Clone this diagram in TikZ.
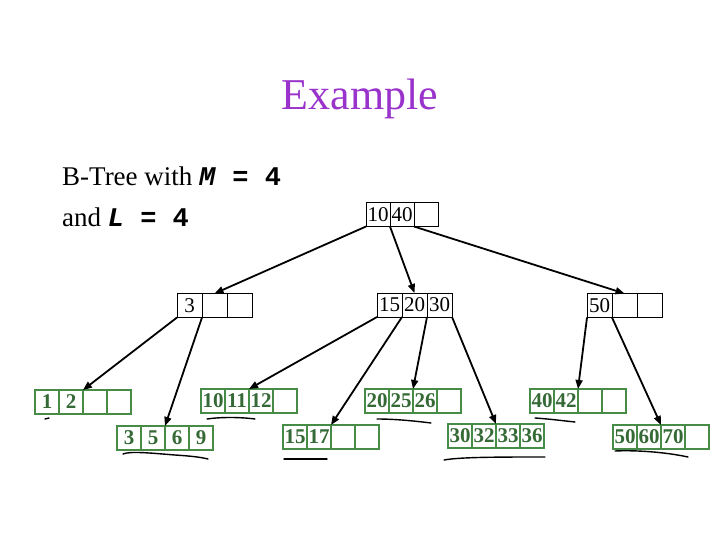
\documentclass[tikz,border=0pt]{standalone}
\usepackage{fontspec}
\setmainfont{Liberation Serif}
\setmonofont{Liberation Mono}
\usetikzlibrary{arrows.meta,positioning,calc}
\definecolor{titlepurple}{RGB}{153,51,204}
\definecolor{leafgreen}{RGB}{70,140,70}

\begin{document}
\begin{tikzpicture}[x=1pt,y=-1pt,
  icell/.style={draw=black,line width=1pt,minimum height=24pt,inner sep=0pt,outer sep=0pt,font=\fontsize{21}{21}\selectfont},
  lcell/.style={draw=leafgreen,line width=1.8pt,minimum width=24pt,minimum height=24pt,inner sep=0pt,outer sep=0pt,text=leafgreen!75!black,font=\fontsize{21}{21}\selectfont\bfseries},
  ptr/.style={-{Triangle[length=9pt,width=7pt]},line width=1.8pt},
  scribble/.style={line width=1.4pt,line cap=round}]
  \useasboundingbox (0,0) rectangle (720,540);

  % heading
  \node[text=titlepurple,font=\fontsize{44}{44}\selectfont,anchor=base,inner sep=0pt] (title) at (360,110) {Example};
  \node[anchor=base west,inner sep=0pt,font=\fontsize{27}{27}\selectfont] (line1) at (62,186) {B-Tree with \texttt{\textbf{\textit{M} = 4}}};
  \node[anchor=base west,inner sep=0pt,font=\fontsize{27}{27}\selectfont] (line2) at (62,226) {and \texttt{\textbf{\textit{L} = 4}}};

  % internal nodes: name / left x / centre y / cell width / keys
  \foreach \name/\x/\y/\w/\keys in {r/366/214.5/24/{10,40,{}}, a/177/305.5/25/{3,{},{}},
      b/377/305/25/{15,20,30}, c/587/305.5/25/{50,{},{}}} {
    \foreach \k [count=\i] in \keys {
      \node[icell,minimum width=\w pt] (\name-\i) at ({\x+(\i-0.5)*\w},\y) {\k};
    }
  }

  % leaves
  \foreach \name/\x/\y/\keys in {l1/35/402/{1,2,{},{}}, l2/117/438/{3,5,6,9},
      l3/201/401/{10,11,12,{}}, l4/283/437/{15,17,{},{}}, l5/365/401/{20,25,26,{}},
      l6/448/436/{30,32,33,36}, l7/530/401/{40,42,{},{}}, l8/613/437/{50,60,70,{}}} {
    \foreach \k [count=\i] in \keys {
      \node[lcell] (\name-\i) at ({\x+(\i-0.5)*24},\y) {\k};
    }
  }

  % pointers
  \foreach \s/\t in {r-1.south west/a-2.north, r-2.south west/b-2.north, r-3.south west/c-2.north,
      a-1.south west/l1-2.north east, a-2.south west/l2-2.north east,
      b-1.south west/l3-2.north east, b-2.south west/l4-2.north east,
      b-3.south west/l5-2.north east, b-3.south east/l6-2.north east,
      c-1.south west/l7-2.north east, c-2.south west/l8-2.north east} {
    \draw[ptr] (\s) -- (\t);
  }

  % hand-drawn underlines
  \draw[scribble] (45,419) -- (49,418);
  \draw[scribble] (123,454) .. controls (130,451) and (150,453) .. (175,455) .. controls (190,456) and (200,457) .. (208,459);
  \draw[scribble] (207,419) .. controls (220,417) and (240,417) .. (255,419);
  \draw[scribble] (284,459) -- (327,459);
  \draw[scribble] (377,419) .. controls (395,419) and (415,421) .. (431,423);
  \draw[scribble] (444,460) .. controls (460,457) and (500,457) .. (545,457);
  \draw[scribble] (535,418) .. controls (550,419) and (565,421) .. (575,422);
  \draw[scribble] (615,451) .. controls (635,450) and (665,452) .. (688,457);
\end{tikzpicture}
\end{document}
